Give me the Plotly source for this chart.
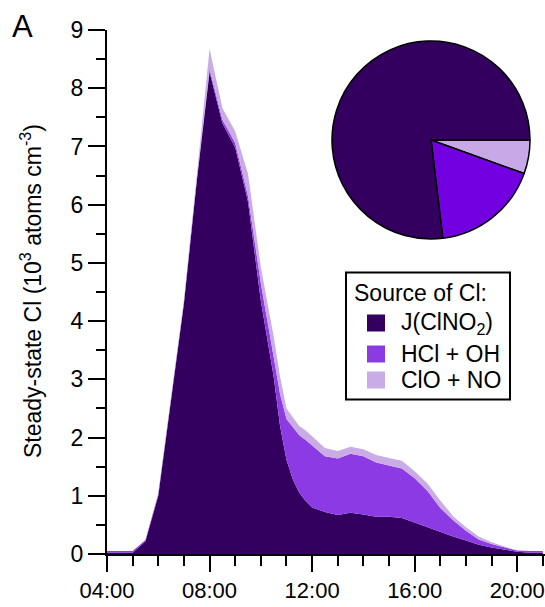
import plotly.graph_objects as go

# ---------------- data ----------------
times = ["04:00", "04:30", "05:00", "05:30", "06:00", "06:30", "07:00", "07:30",
         "08:00", "08:30", "09:00", "09:30", "10:00", "10:30", "10:45", "11:00",
         "11:15", "11:30", "11:45", "12:00", "12:30", "13:00", "13:30", "14:00",
         "14:30", "15:00", "15:30", "16:00", "16:30", "17:00", "17:30", "18:00",
         "18:30", "19:00", "19:30", "20:00", "20:30", "21:00"]

j_clno2 = [0.02, 0.02, 0.02, 0.22, 1.00, 2.65, 4.30, 6.40,
           8.28, 7.40, 6.98, 6.05, 4.35, 3.05, 2.20, 1.62,
           1.28, 1.05, 0.91, 0.80, 0.72, 0.67, 0.71, 0.68,
           0.64, 0.64, 0.62, 0.54, 0.46, 0.37, 0.30, 0.23,
           0.16, 0.11, 0.07, 0.04, 0.02, 0.02]

hcl_oh = [0.03, 0.03, 0.03, 0.02, 0.03, 0.03, 0.03, 0.04,
          0.05, 0.06, 0.08, 0.10, 0.30, 0.34, 0.55, 0.70,
          0.90, 0.99, 1.05, 1.07, 0.96, 0.97, 1.01, 1.00,
          0.93, 0.88, 0.85, 0.76, 0.62, 0.42, 0.28, 0.17,
          0.09, 0.06, 0.04, 0.02, 0.03, 0.03]

clo_no = [0.00, 0.00, 0.00, 0.00, 0.01, 0.02, 0.03, 0.05,
          0.35, 0.20, 0.20, 0.38, 0.28, 0.35, 0.30, 0.18,
          0.17, 0.16, 0.16, 0.15, 0.14, 0.13, 0.12, 0.12,
          0.13, 0.13, 0.13, 0.12, 0.13, 0.13, 0.07, 0.06,
          0.05, 0.03, 0.02, 0.00, 0.00, 0.00]

source_labels = ["ClO + NO", "HCl + OH", "J(ClNO<sub>2</sub>)"]
pie_share = [5.5, 17.6, 76.9]   # percent contributions (pie)

x_tick_vals = ["04:00", "08:00", "12:00", "16:00", "20:00"]
y_tick_vals = [0, 1, 2, 3, 4, 5, 6, 7, 8, 9]

# ---------------- styles ----------------
C_DARK = "#330060"
C_MID = "#8C3AE4"
C_LIGHT = "#C9ACE6"
PIE_COLORS = ["#C8A8E6", "#7200E0", "#33005F"]
FONT = "Liberation Sans, Arial, sans-serif"
FS = 23

DAY = "2019-01-01 "
xs = [DAY + t for t in times]

W, H = 545, 607
ML, MR, MT, MB = 107, 0, 30, 53
PW, PH = W - ML - MR, H - MT - MB


def px(x):
    return (x - ML) / PW


def py(y):
    return (H - MB - y) / PH


fig = go.Figure()
for name, vals, col in [("J(ClNO<sub>2</sub>)", j_clno2, C_DARK),
                        ("HCl + OH", hcl_oh, C_MID),
                        ("ClO + NO", clo_no, C_LIGHT)]:
    fig.add_trace(go.Scatter(x=xs, y=vals, name=name, mode="lines",
                             stackgroup="one", line=dict(width=0, color=col),
                             fillcolor=col, showlegend=False))

# pie inset
cx, cy, r = 431, 140, 99
fig.add_trace(go.Pie(values=pie_share, labels=source_labels, sort=False,
                     direction="clockwise", rotation=90,
                     marker=dict(colors=PIE_COLORS, line=dict(color="black", width=1.5)),
                     textinfo="none", showlegend=False,
                     domain=dict(x=[px(cx - r), px(cx + r)], y=[py(cy + r), py(cy - r)])))

fig.update_layout(
    width=W, height=H, margin=dict(l=ML, r=MR, t=MT, b=MB, autoexpand=False),
    paper_bgcolor="white", plot_bgcolor="white",
    font=dict(family=FONT, size=FS, color="black"),
    xaxis=dict(type="date", range=[DAY + "04:00", DAY + "21:05"],
               tickvals=[DAY + t for t in x_tick_vals], ticktext=x_tick_vals,
               ticks="outside", ticklen=16, tickwidth=2, tickcolor="black",
               showline=True, linewidth=2, linecolor="black", showgrid=False,
               zeroline=False, ticklabelstandoff=0, automargin=False,
               ticklabeloverflow="allow",
               minor=dict(dtick=3600000, ticks="outside", ticklen=10,
                          tickwidth=2, tickcolor="black", showgrid=False),
               tickfont=dict(size=22)),
    yaxis=dict(range=[0, 9], tickvals=y_tick_vals, automargin=False,
               ticks="outside", ticklen=17, tickwidth=2, tickcolor="black",
               showline=True, linewidth=2, linecolor="black", showgrid=False,
               zeroline=False,
               minor=dict(dtick=0.5, ticks="outside", ticklen=9, tickwidth=2,
                          tickcolor="black", showgrid=False),
               tickfont=dict(size=FS)),
)

# y-axis title and panel letter
fig.add_annotation(xref="paper", yref="paper", x=px(31), y=py(291),
                   text="Steady-state Cl (10<sup>3</sup> atoms cm<sup>-3</sup>)",
                   textangle=-90, showarrow=False, font=dict(size=FS),
                   xanchor="center", yanchor="middle")
fig.add_annotation(xref="paper", yref="paper", x=px(22), y=py(26), text="A",
                   showarrow=False, font=dict(size=31), xanchor="center", yanchor="middle")

# legend box
fig.add_shape(type="rect", xref="paper", yref="paper",
              x0=px(346), x1=px(510), y0=py(399.5), y1=py(272.5),
              line=dict(color="black", width=2), fillcolor="white")
fig.add_annotation(xref="paper", yref="paper", x=px(352), y=py(293),
                   text="Source of Cl:", showarrow=False, font=dict(size=FS),
                   xanchor="left", yanchor="middle")
leg_rows = [("J(ClNO<sub>2</sub>)", C_DARK, 323), ("HCl + OH", C_MID, 354),
            ("ClO + NO", C_LIGHT, 380)]
for txt, col, yc in leg_rows:
    fig.add_shape(type="rect", xref="paper", yref="paper",
                  x0=px(367), x1=px(385), y0=py(yc + 8.5), y1=py(yc - 8.5),
                  line=dict(width=0), fillcolor=col)
    fig.add_annotation(xref="paper", yref="paper", x=px(399), y=py(yc),
                       text=txt, showarrow=False, font=dict(size=FS),
                       xanchor="left", yanchor="middle")

fig.write_html("out.html")
